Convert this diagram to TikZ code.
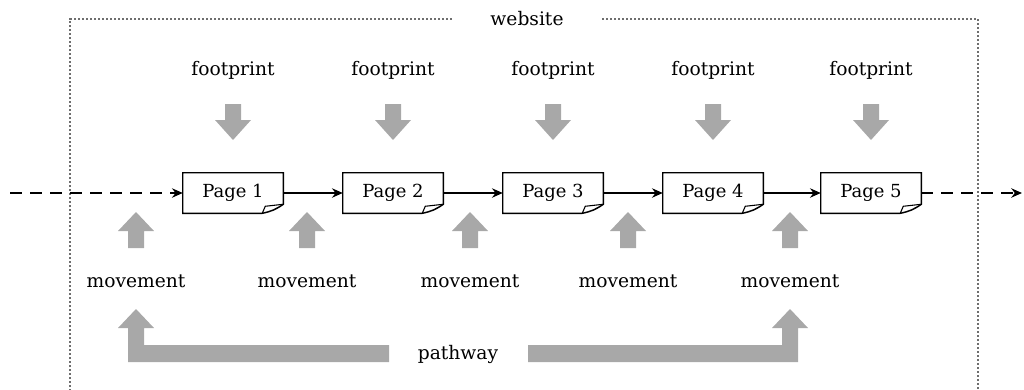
\documentclass[tikz,border=0pt]{standalone}
\usepackage{fontspec}
\setmainfont{DejaVu Serif}
\usetikzlibrary{arrows.meta,calc}
\definecolor{arrowgray}{RGB}{168,168,168}
\definecolor{boxgray}{RGB}{110,110,110}
\tikzset{
  lbl/.style={font=\fontsize{14}{16}\selectfont, inner sep=0pt},
  pagebox/.style={minimum width=75pt, minimum height=30pt, inner sep=0pt, font=\fontsize{13.5}{16}\selectfont},
  pageline/.style={line width=1.1pt},
  conn/.style={line width=1.5pt, -{Stealth[length=8pt,width=7pt]}},
  dashconn/.style={conn, dash pattern=on 9pt off 6pt},
  framel/.style={boxgray, line width=0.8pt, dash pattern=on 1.5pt off 1.5pt},
  downarr/.pic={\fill[arrowgray] (-8,-18) -- (8,-18) -- (8,-2) -- (18,-2) -- (0,18) -- (-18,-2) -- (-8,-2) -- cycle;},
  uparr/.pic={\fill[arrowgray] (-8,18) -- (8,18) -- (8,1) -- (18,1) -- (0,-18) -- (-18,1) -- (-8,1) -- cycle;}
}
\begin{document}
\begin{tikzpicture}[x=0.75pt,y=-0.75pt]
\useasboundingbox (0,0) rectangle (1024,389);
% frame
\node[lbl, minimum width=112.5pt, minimum height=12pt] (web) at (527,19) {website};
\coordinate (tl) at (70,19);
\coordinate (tr) at (978,19);
\coordinate (bl) at (70,392);
\coordinate (br) at (978,392);
\draw[framel] (web.west) -- (tl) -- (bl);
\draw[framel] (web.east) -- (tr) -- (br);
% pages
\foreach \i/\x in {1/233,2/393,3/553,4/713,5/871}{
  \node[pagebox] (p\i) at (\x,193) {Page \i};
  \draw[pageline] (p\i.north west) -- (p\i.north east) -- ($(p\i.south east)+(0,-9)$)
     to[bend left=12] ($(p\i.south east)+(-21,0)$) -- (p\i.south west) -- cycle;
  \draw[line width=0.8pt] ($(p\i.south east)+(-21,0)$) -- ($(p\i.south east)+(-18,-7)$) -- ($(p\i.south east)+(0,-9)$);
  \node[lbl] (f\i) at (\x,70) {footprint};
  \pic at (\x,122) {downarr};
}
% movements
\foreach \i/\x in {1/136,2/307,3/470,4/628,5/790}{
  \pic at (\x,230) {uparr};
  \node[lbl] (m\i) at (\x,281) {movement};
}
% connectors
\coordinate (start) at (10,193);
\coordinate (end) at (1022,193);
\draw[dashconn] (start) -- (p1.west);
\foreach \a/\b in {1/2,2/3,3/4,4/5}{\draw[conn] (p\a.east) -- (p\b.west);}
\draw[dashconn] (p5.east) -- (end);
% pathway
\node[lbl] (path) at (458,354) {pathway};
\fill[arrowgray] (136,309) -- (154,328) -- (144,328) -- (144,345) -- (389,345) -- (389,362) -- (128,362) -- (128,328) -- (118,328) -- cycle;
\fill[arrowgray] (790,309) -- (808,328) -- (798,328) -- (798,362) -- (528,362) -- (528,345) -- (782,345) -- (782,328) -- (772,328) -- cycle;
\end{tikzpicture}
\end{document}
